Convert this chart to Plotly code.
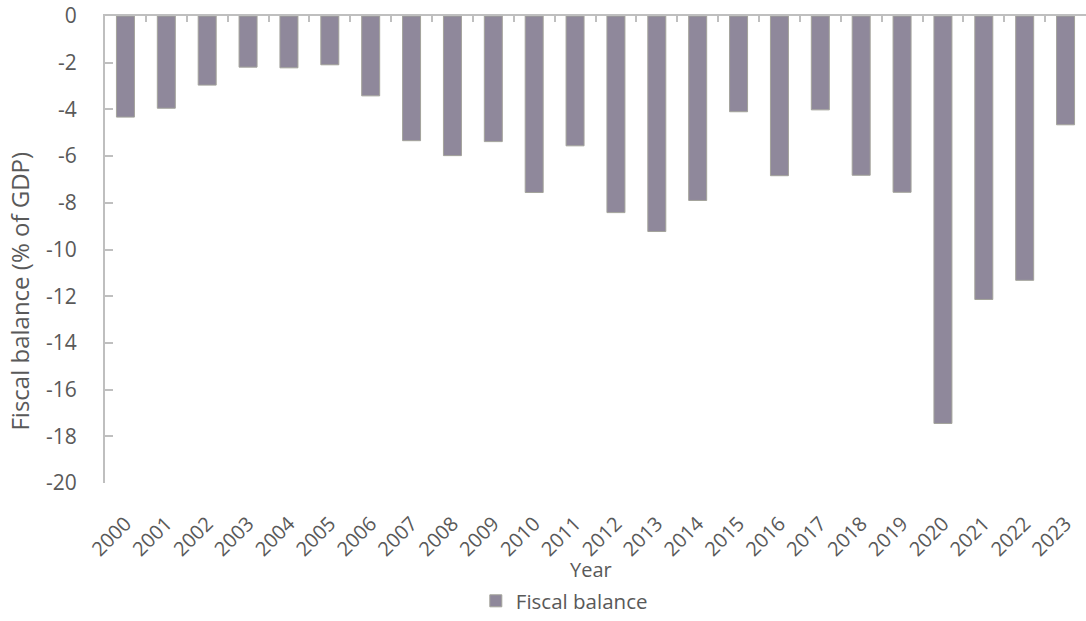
import plotly.graph_objects as go

years = [str(y) for y in range(2000, 2024)]
fiscal_balance = [-4.33, -3.95, -2.96, -2.19, -2.22, -2.09, -3.42, -5.34, -5.98, -5.38,
                  -7.56, -5.56, -8.42, -9.23, -7.90, -4.10, -6.84, -4.02, -6.82, -7.55,
                  -17.45, -12.14, -11.32, -4.66]
y_ticks = list(range(0, -21, -2))

FONT = "Open Sans, Noto Sans, sans-serif"
TXT = "#595959"
AX = "#bfbfbf"
FS = 21

fig = go.Figure()
fig.add_trace(go.Bar(
    x=years, y=fiscal_balance, name="Fiscal balance",
    marker=dict(color="#8f889b", line=dict(color="#a3a39b", width=1)),
    xaxis="x", yaxis="y",
))
# invisible trace for top axis line with boundary ticks
fig.add_trace(go.Scatter(x=[-0.5, 23.5], y=[0, 0], mode="lines", line=dict(width=0),
                         showlegend=False, hoverinfo="skip", xaxis="x2", yaxis="y"))

fig.update_layout(
    width=1086, height=621,
    margin=dict(l=105, r=0, t=16, b=137),
    paper_bgcolor="white", plot_bgcolor="white",
    font=dict(family=FONT, size=FS, color=TXT),
    bargap=0.56,
    showlegend=True,
    legend=dict(orientation="h", x=0.378, xanchor="left", y=-0.252, yanchor="middle",
                font=dict(size=20.5, color=TXT), itemwidth=30),
    xaxis=dict(type="category", showline=False, ticks="", tickangle=-45,
               ticklabelstandoff=24, showgrid=False, zeroline=False, automargin=False,
               tickfont=dict(size=20, color=TXT)),
    xaxis2=dict(overlaying="x", side="top", range=[-0.5, 23.5], showticklabels=False,
                showline=True, linecolor=AX, linewidth=2, ticks="inside", ticklen=6,
                tickcolor=AX, tickwidth=1.5, automargin=False,
                tickvals=[i + 0.5 for i in range(23)], showgrid=False, zeroline=False),
    yaxis=dict(range=[-20, 0], tickvals=y_ticks, ticktext=[str(v) for v in y_ticks],
               showline=True, linecolor=AX, linewidth=2, ticks="inside", ticklen=8,
               tickcolor=AX, tickwidth=1.5, showgrid=False, zeroline=False, automargin=False,
               ticklabelstandoff=22, tickfont=dict(size=FS, color=TXT)),
    annotations=[
        dict(text="Year", xref="paper", yref="paper", x=0.495, y=-0.186,
             xanchor="center", yanchor="middle", showarrow=False,
             font=dict(size=20, color=TXT)),
        dict(text="Fiscal balance (% of GDP)", xref="paper", yref="paper",
             x=-0.0867, y=0.412, xanchor="center", yanchor="middle", textangle=-90,
             showarrow=False, font=dict(size=24, color=TXT)),
    ],
)

fig.write_html("out.html")
